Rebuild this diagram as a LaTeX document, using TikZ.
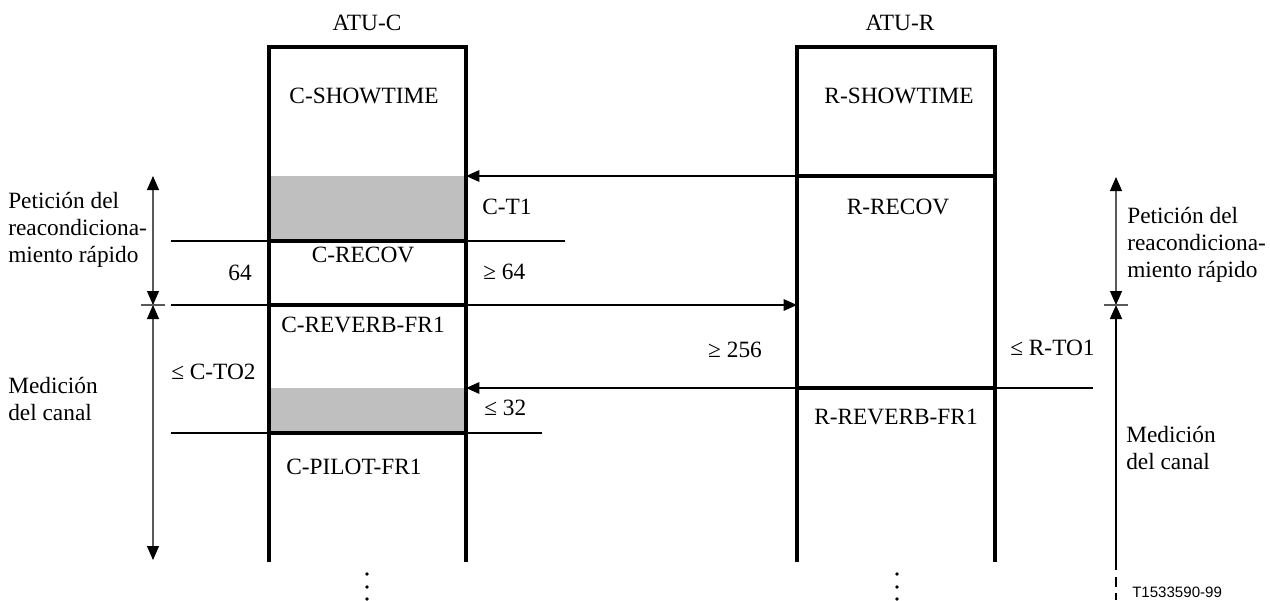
\documentclass[tikz,border=0pt]{standalone}
\usepackage{fontspec}
\setmainfont{Liberation Serif}
\newfontfamily\arialfont{Liberation Sans}
\usetikzlibrary{arrows.meta}
\begin{document}
\begin{tikzpicture}[x=0.75pt,y=-0.75pt,
  lbl/.style={inner sep=0pt, font=\fontsize{17.5}{20.25}\selectfont},
  mlbl/.style={lbl, align=left, anchor=west},
  boxline/.style={line width=2.3pt, line join=miter},
  ext/.style={line width=1.5pt},
  msg/.style={line width=1.5pt, -{Triangle[length=10pt,width=8.5pt]}},
  dimtip/.tip={Triangle[length=10.5pt,width=9pt,color=black]},
  dim/.style={line width=0.8pt, draw=black!65},
  shade/.style={fill=black!25, draw=none},
  dot/.style={circle, fill=black, inner sep=0pt, minimum size=2.8pt}]
\useasboundingbox (0,0) rectangle (1270,600);

% shaded parts
\fill[shade] (269,176) rectangle (466,241);
\fill[shade] (269,388) rectangle (466,433);

% coordinates
\coordinate (cL) at (269,47);  \coordinate (cR) at (466,47);
\coordinate (rL) at (797,47);  \coordinate (rR) at (995,47);
\coordinate (cLb) at (269,562); \coordinate (cRb) at (466,562);
\coordinate (rLb) at (797,562); \coordinate (rRb) at (995,562);

% boxes (open at the bottom)
\draw[boxline] (cLb) -- (cL) -- (cR) -- (cRb);
\draw[boxline] (rLb) -- (rL) -- (rR) -- (rRb);

% separators inside boxes
\draw[boxline] (269,241) -- (466,241);
\draw[boxline] (269,305) -- (466,305);
\draw[boxline] (269,433) -- (466,433);
\draw[boxline] (797,176) -- (995,176);
\draw[boxline] (797,388) -- (995,388);

% extension lines
\coordinate (e1a) at (171,241); \coordinate (e1b) at (565,241);
\coordinate (e3a) at (171,433); \coordinate (e3b) at (542,433);
\draw[ext] (e1a) -- (e1b);
\draw[ext] (e3a) -- (e3b);

% messages
\coordinate (m1s) at (797,176); \coordinate (m1e) at (466,176);
\coordinate (m2s) at (171,305); \coordinate (m2e) at (797,305);
\coordinate (m3s) at (1093,388); \coordinate (m3e) at (466,388);
\draw[msg] (m1s) -- (m1e);
\draw[msg] (m2s) -- (m2e);
\draw[msg] (m3s) -- (m3e);

% left dimensions
\coordinate (dl1) at (153,176); \coordinate (dl2) at (153,305); \coordinate (dl3) at (153,560);
\draw[dim, dimtip-dimtip] (dl1) -- (dl2);
\draw[dim, dimtip-dimtip] (dl2) -- (dl3);
\draw[dim] (141,305) -- (165,305);

% right dimensions
\coordinate (dr1) at (1116,177); \coordinate (dr2) at (1116,305); \coordinate (dr3) at (1116,570);
\draw[dim, dimtip-dimtip] (dr1) -- (dr2);
\draw[line width=1.3pt, dimtip-] (dr2) -- (dr3);
\draw[line width=1.3pt] (1116,577) -- (1116,587);
\draw[line width=1.3pt] (1116,593) -- (1116,600);
\draw[dim] (1104,305) -- (1128,305);

% texts
\node[lbl] (atuc) at (367,23) {ATU-C};
\node[lbl] (atur) at (900,23) {ATU-R};
\node[lbl] (csh) at (364,96) {C-SHOWTIME};
\node[lbl] (rsh) at (899,96) {R-SHOWTIME};
\node[lbl, anchor=west] (ct1) at (482,207) {C-T1};
\node[lbl] (rrecov) at (898,207) {R-RECOV};
\node[lbl] (crecov) at (363,255) {C-RECOV};
\node[lbl] (n64) at (240,273) {64};
\node[lbl, anchor=west] (ge64) at (483,272) {≥ 64};
\node[lbl] (crev) at (363,325) {C-REVERB-FR1};
\node[lbl] (ge256) at (735,350) {≥ 256};
\node[lbl, anchor=west] (rto1) at (1010,348) {≤ R-TO1};
\node[lbl, anchor=west] (cto2) at (171,372) {≤ C-TO2};
\node[lbl, anchor=west] (le32) at (484,408) {≤ 32};
\node[lbl] (rrev) at (896,417) {R-REVERB-FR1};
\node[lbl] (cpil) at (354,467) {C-PILOT-FR1};

\node[mlbl] (peticL) at (8,230) {Petición del\\reacondiciona-\\miento rápido};
\node[mlbl] (peticR) at (1127,245) {Petición del\\reacondiciona-\\miento rápido};
\node[mlbl] (medL) at (8,399) {Medición\\del canal};
\node[mlbl] (medR) at (1126,448) {Medición\\del canal};

\node[inner sep=0pt, anchor=west, font=\arialfont\fontsize{11.3}{13}\selectfont] (ref) at (1132,592) {T1533590-99};

% continuation dots
\foreach \yy [count=\i] in {574,587,599} {
  \node[dot] (dl\i x) at (367,\yy) {};
  \node[dot] (dr\i x) at (897,\yy) {};
}
\end{tikzpicture}
\end{document}
